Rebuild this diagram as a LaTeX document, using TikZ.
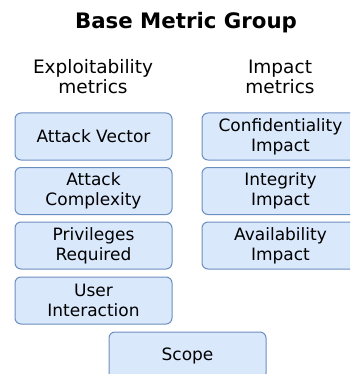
\documentclass[tikz,border=0pt]{standalone}
\usepackage{fontspec}
\setmainfont{DejaVu Sans}
\definecolor{boxfill}{HTML}{DAE8FC}
\definecolor{boxdraw}{HTML}{6C8EBF}
\begin{document}
\begin{tikzpicture}[x=1pt,y=-1pt,
  metric/.style={draw=boxdraw,fill=boxfill,line width=1pt,rounded corners=6pt,
    minimum width=157pt,minimum height=47pt,inner sep=0pt,align=center,
    font=\fontsize{17}{20}\selectfont},
  header/.style={align=center,font=\fontsize{18.5}{20}\selectfont},
  title/.style={font=\fontsize{21.3}{24}\selectfont\bfseries}]
\useasboundingbox (0,0) rectangle (350,374);
\clip (0,0) rectangle (350,374);
\node[title] (t) at (186,23) {Base Metric Group};
\node[header] (he) at (93,77) {Exploitability\\metrics};
\node[header] (hi) at (280,77) {Impact\\metrics};
\node[metric] (av) at (93.5,136.5) {Attack Vector};
\node[metric] (ac) at (93.5,191) {Attack\\Complexity};
\node[metric] (pr) at (93.5,245.5) {Privileges\\Required};
\node[metric] (ui) at (93.5,300.5) {User\\Interaction};
\node[metric] (ci) at (280.5,136.5) {Confidentiality\\Impact};
\node[metric] (ii) at (280.5,191) {Integrity\\Impact};
\node[metric] (ai) at (280.5,245.5) {Availability\\Impact};
\node[metric] (sc) at (187.5,355.5) {Scope};
\end{tikzpicture}
\end{document}
